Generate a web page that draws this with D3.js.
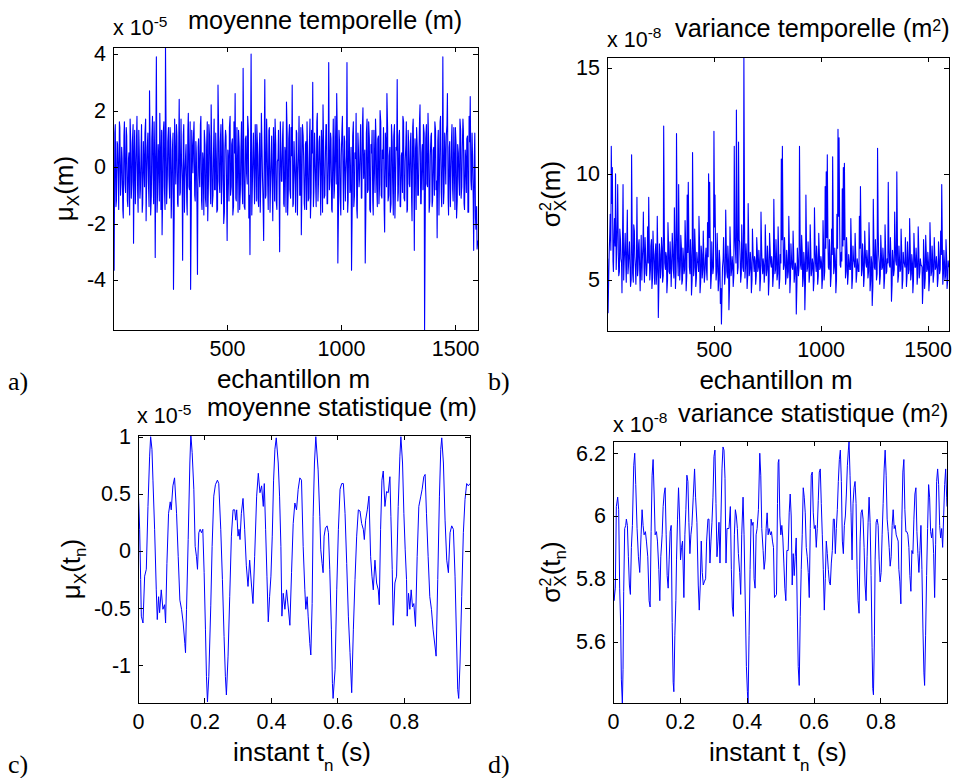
<!DOCTYPE html>
<html><head><meta charset="utf-8">
<script src="https://cdn.jsdelivr.net/npm/d3@7"></script>
<style>body{margin:0;background:#fff}svg{display:block}</style>
</head><body>
<svg id="chart" width="954" height="778"></svg>
<script>
// ---------------- DATA ----------------
// a) moyenne temporelle (x 1e-5 m). Two interleaved readings:
//    first array at samples m = 1, 6, 11, ... ; second array at m = 4, 9, 14, ...
const stepEchantillon = 5;
const offsetSecond = 3;
const moyenneTemporelle = [
2.2,-3.65,1.5,-1.2,0.8,-1.5,1.4,-0.6,0.3,-1.8,
1.6,-0.9,1.1,-1.4,0.5,1.7,-1.1,0.9,-2.7,1.3,
-0.4,1.8,-1.6,0.6,-0.8,1.5,-1.3,0.2,1.2,-1.9,
0.7,-0.5,2.7,-1.7,1.0,-0.2,1.6,-3.2,3.9,-1.0,
0.4,1.9,-1.5,-2.4,1.2,-0.7,4.25,-1.3,0.9,-0.3,
1.4,-1.8,0.6,-4.33,1.7,-0.6,1.1,-1.4,2.4,-0.9,
0.3,-3.3,1.5,-0.4,0.8,-1.7,1.9,-0.8,-4.33,1.3,
-0.2,1.6,-1.2,0.5,-3.8,1.0,-0.7,1.8,-1.5,0.2,
1.3,-1.1,0.7,-1.9,1.5,-0.3,2.2,-1.4,0.4,-0.8,
1.2,-1.6,2.9,-0.5,0.9,-1.3,1.7,-2.0,0.6,1.1,
-2.6,0.3,1.4,-1.0,0.8,-1.7,1.6,2.6,-1.2,0.1,
1.3,-1.5,0.5,-0.6,3.5,-1.4,1.0,-0.2,1.8,-1.8,
-3.1,4.0,-0.9,1.2,-1.3,0.7,1.5,-1.1,0.4,-1.6,
1.9,-0.4,-2.6,3.1,-1.0,0.8,-1.5,1.4,-0.7,1.1,
-1.9,0.6,1.7,-1.2,0.2,1.3,-3.0,0.9,-0.5,1.6,
-1.4,0.5,2.3,-1.7,1.0,-0.8,1.4,2.9,-1.3,0.3,
-1.6,1.2,-0.4,1.8,-1.0,-2.4,1.5,0.4,-1.5,0.9,
1.6,-1.2,0.7,-1.8,1.3,3.0,-0.9,0.5,-1.4,1.9,
-0.6,1.1,-1.7,0.8,2.2,-1.1,0.2,1.5,-1.3,3.7,
-0.5,1.0,-1.6,1.7,-0.8,0.6,2.6,-3.4,1.3,-1.0,
0.4,1.8,-1.5,0.9,-0.3,3.7,-1.2,1.4,-0.7,-3.65,
1.1,-1.4,0.5,1.9,-1.8,0.7,-0.4,1.5,-1.1,2.1,
0.2,-3.4,1.2,-0.9,1.6,-1.5,0.8,1.3,-1.7,0.3,
1.7,-0.6,1.0,-1.3,2.0,-1.0,0.6,1.4,-2.3,0.9,
2.6,-1.2,0.4,-1.6,1.5,-0.5,1.1,-1.8,0.7,3.1,
-0.9,1.3,-1.4,0.5,1.8,-1.1,0.2,1.6,-1.5,0.9,
-0.7,1.2,-1.9,1.7,-2.95,0.6,1.4,-1.0,0.3,2.2,
-1.3,0.8,1.5,-5.77,1.0,-0.6,1.9,-1.6,0.4,1.2,
-1.2,0.7,1.6,-0.8,-2.5,1.3,-0.3,1.8,-1.4,3.9,
-0.9,0.5,1.1,2.6,-1.7,0.9,-0.5,1.5,-1.2,0.2,
1.4,-1.8,0.8,-0.4,1.7,-1.1,0.6,1.3,-1.5,0.3,
1.0,-1.6,1.8,2.5,-0.8,0.4,-2.95,1.2,-2.2,-2.9
];
const moyenneTemporelleB = [
-0.8,1.2,-1.4,0.9,-0.3,1.6,-1.0,0.7,-1.5,1.1,
-0.6,1.4,-1.2,0.3,-1.7,0.8,-0.5,1.5,0.4,-1.3,
1.0,-0.9,1.3,-1.1,0.6,-1.6,0.9,-0.7,1.7,-0.2,
1.2,-1.4,0.5,-1.0,1.8,-1.3,0.2,1.1,-1.6,0.8,
-1.2,0.5,1.3,-0.9,1.6,-1.5,0.7,-0.4,1.4,-1.1,
0.9,-0.6,1.2,-1.8,0.3,1.5,-1.3,0.8,-1.0,1.7,
-0.5,1.1,-1.6,0.4,-1.2,1.3,-0.7,1.6,-1.4,0.6,
1.2,-1.0,0.9,-1.5,0.7,-0.3,1.5,-1.2,0.5,-1.7,
0.8,-1.4,1.6,-0.6,1.1,-1.3,0.4,-1.0,1.7,-0.8,
0.3,-1.5,1.2,-0.9,1.5,-0.4,0.8,-1.6,1.3,-1.1,
0.6,-1.2,1.8,-0.7,1.0,-1.4,0.5,-1.1,1.4,-1.6,
0.7,-0.8,1.6,-1.3,0.2,-1.5,1.1,-0.6,1.3,-1.0,
0.9,-1.7,0.5,-0.4,1.5,-1.2,0.8,-1.4,1.2,-0.3,
0.6,-1.5,1.0,-1.1,1.7,-0.7,1.3,-1.6,0.4,-0.9,
1.4,-1.2,0.8,-1.5,0.3,-1.0,1.6,-0.5,1.1,-1.3,
0.7,-1.6,1.2,-0.8,1.5,-1.1,0.4,-1.4,0.9,-0.6,
1.3,-1.7,0.6,-1.0,1.4,-0.5,1.1,-1.3,0.8,-1.5,
0.2,-1.1,1.7,-0.9,0.5,-1.4,1.2,-0.7,1.6,-1.2,
0.9,-0.4,1.3,-1.6,0.7,-1.0,1.5,-1.3,0.4,-0.8,
1.2,-1.5,0.6,-1.1,1.8,-0.6,1.0,-1.4,0.8,-1.7,
1.3,-0.5,1.1,-1.2,0.4,-1.6,1.4,-0.9,0.7,-1.3,
1.6,-1.0,0.3,-1.5,1.2,-0.7,0.9,-1.1,1.5,-0.4,
0.6,-1.3,1.7,-0.8,1.0,-1.6,0.5,-1.2,1.3,-0.9,
0.8,-1.4,1.1,-0.6,1.6,-1.1,0.3,-1.5,1.2,-0.7,
1.4,-1.0,0.7,-1.3,0.9,-1.7,1.5,-0.5,0.6,-1.2,
1.1,-1.4,0.4,-0.9,1.6,-1.2,0.8,-1.6,1.3,-0.6,
0.9,-1.1,1.4,-0.3,1.0,-1.5,0.7,-1.0,1.7,-1.3,
0.5,-0.8,1.2,-1.6,1.5,-0.7,0.8,-1.2,1.1,-1.4,
0.6,-1.0,1.3,-0.5,0.9,-1.7,1.6,-0.9,0.4,-1.3,
1.2,-0.6,1.5,-1.1,0.7,-1.4,1.0,-0.8,1.4,-1.5,
0.8,-1.2,0.5,-1.0,1.3,-0.7,1.7,-1.3,0.6,-0.9,
1.1,-1.6,0.9,-0.5,1.2,-1.1,0.4,-1.8,-1.4,-2.6
];
// b) variance temporelle (x 1e-8 m^2), same two interleaved readings
const varianceTemporelle = [
3.5,3.46,6.2,8.1,11.3,10.3,5.4,7.9,10.0,6.3,
9.5,5.2,7.4,6.0,4.4,9.5,5.8,7.2,4.9,8.3,
5.6,6.8,4.7,10.9,5.3,7.6,6.1,4.8,8.9,5.5,
6.9,4.5,7.1,5.9,8.2,4.9,6.4,5.2,7.5,8.9,
5.0,6.6,4.6,7.3,5.7,6.2,4.8,8.0,3.24,6.7,
5.1,7.0,4.9,12.25,5.8,6.3,4.4,7.7,5.4,6.8,
4.7,7.2,5.5,8.4,4.6,11.9,6.0,9.5,5.0,7.1,
4.8,6.5,5.3,7.8,4.5,9.0,9.6,5.6,6.9,4.3,
11.0,5.2,7.4,4.7,6.3,5.8,8.0,4.4,6.6,5.1,
7.3,4.9,6.0,5.5,7.7,10.0,9.6,4.6,6.8,5.3,
12.0,9.0,5.0,7.2,4.5,6.4,3.9,2.93,5.6,7.0,
4.8,8.3,5.4,6.6,3.6,7.5,5.2,6.1,4.7,11.3,
6.5,13.0,5.3,11.5,6.8,4.9,7.6,5.6,15.5,5.1,
6.7,4.6,8.6,5.2,6.3,4.4,7.4,5.9,6.1,4.8,
7.0,5.4,6.4,4.5,8.2,5.7,6.0,4.9,7.6,5.2,
6.6,4.3,7.2,5.8,6.1,4.7,8.8,5.3,6.9,5.0,
7.5,4.6,6.2,10.7,11.3,5.5,7.0,4.8,6.4,5.1,
8.0,4.4,6.7,5.6,7.3,4.9,5.8,3.4,6.5,5.2,
11.3,5.7,7.1,4.7,6.3,3.6,9.0,5.4,6.8,4.9,
7.6,5.2,6.0,4.5,8.4,5.8,6.6,4.8,7.2,5.5,
6.1,4.6,7.8,5.0,9.4,10.1,10.9,5.6,6.9,4.7,
7.4,10.8,5.3,6.5,4.4,8.1,12.1,11.7,5.7,6.3,
9.3,10.3,10.5,5.1,7.0,4.8,6.2,5.5,7.9,4.6,
6.6,5.9,7.2,4.9,6.0,5.4,8.0,9.4,5.2,6.7,
4.7,7.3,5.8,6.4,5.1,7.7,4.5,6.1,3.8,8.8,
5.6,6.9,5.0,11.2,6.2,4.8,7.1,5.5,6.5,4.6,
7.6,5.3,6.0,9.6,5.7,7.0,4.0,6.4,5.2,8.2,
5.9,10.1,4.9,6.6,5.4,7.4,4.6,6.3,5.8,7.0,
4.7,6.8,5.3,7.9,5.0,6.2,4.4,7.2,5.6,6.5,
4.8,7.5,5.1,6.0,5.7,3.9,6.9,4.6,7.1,5.4,
6.3,4.5,7.7,5.2,6.6,4.9,7.0,5.5,6.1,4.7,
6.8,5.3,7.3,9.5,4.8,6.4,5.0,6.9,4.6,5.9
];
const varianceTemporelleB = [
6.0,5.1,7.2,6.4,8.6,5.9,7.1,6.6,5.5,7.8,
6.2,5.4,6.9,5.8,7.4,5.0,6.5,5.7,7.0,5.3,
6.3,5.6,5.0,6.8,4.9,7.3,5.5,6.2,5.2,6.7,
5.4,6.1,5.0,6.6,5.6,7.0,5.3,6.0,5.8,6.4,
5.5,6.9,5.1,6.3,4.8,6.7,5.4,5.9,5.0,6.2,
5.6,6.5,5.2,7.4,5.5,6.1,5.0,6.6,5.3,5.9,
5.8,6.4,5.1,6.8,5.4,7.3,5.2,6.2,5.7,6.5,
5.0,6.0,5.5,6.7,5.2,6.3,6.8,5.3,6.1,5.0,
7.2,5.6,6.4,5.1,5.9,5.4,6.6,4.9,6.2,5.5,
6.0,5.3,6.5,5.0,6.1,7.0,6.3,5.2,5.8,5.6,
7.5,6.2,5.4,6.0,5.0,5.8,4.6,4.5,6.0,5.6,
5.3,6.4,5.1,5.9,4.7,6.2,5.5,5.7,5.2,7.0,
5.8,7.6,5.6,6.9,5.9,5.3,6.3,5.4,8.0,5.7,
6.0,5.2,6.7,5.5,5.8,5.0,6.2,5.4,5.9,5.2,
6.3,5.6,5.8,5.1,6.5,5.3,5.7,5.4,6.2,5.5,
5.9,5.0,6.4,5.6,5.7,5.2,6.5,5.5,6.0,5.3,
6.2,5.1,5.8,6.9,7.2,5.7,6.1,5.2,5.9,5.4,
6.4,5.1,5.9,5.5,6.2,5.3,5.6,4.8,5.9,5.6,
7.0,5.5,6.3,5.1,5.8,4.9,6.4,5.6,6.0,5.3,
6.3,5.5,5.8,5.0,6.5,5.4,6.0,5.2,6.2,5.6,
5.8,5.1,6.4,5.4,6.5,7.0,6.8,5.5,6.1,5.2,
6.2,7.1,5.6,5.9,5.0,6.5,8.0,7.4,5.6,5.9,
6.6,6.9,7.0,5.4,6.1,5.3,5.8,5.5,6.4,5.1,
5.9,5.6,6.2,5.3,5.7,5.4,6.5,6.8,5.5,6.0,
5.2,6.3,5.6,5.9,5.4,6.4,5.0,5.8,4.7,6.6,
5.5,6.1,5.3,7.3,5.8,5.2,6.2,5.6,5.9,5.1,
6.3,5.4,5.8,6.5,5.6,6.0,4.8,5.9,5.5,6.6,
5.7,6.8,5.2,5.9,5.5,6.3,5.0,5.8,5.6,6.1,
5.2,6.0,5.5,6.4,5.3,5.8,5.0,6.2,5.6,5.9,
5.3,6.3,5.4,5.7,5.6,4.8,6.0,5.1,6.2,5.5,
5.8,5.0,6.4,5.4,5.9,5.3,6.1,5.6,5.7,5.1,
6.0,5.5,6.2,6.6,5.3,5.8,5.2,6.0,5.0,5.6
];
// c) moyenne statistique (x 1e-5 m): [instant t (s), value]
const moyenneStatistique = [
[0.000,0.62],[0.005,0.19],[0.008,-0.25],[0.010,-0.57],[0.015,-0.63],[0.020,-0.22],[0.025,-0.16],[0.030,0.39],[0.035,0.83],[0.038,1.00],
[0.042,0.89],[0.045,0.62],[0.050,0.19],[0.055,-0.34],[0.058,-0.60],[0.062,-0.40],[0.065,-0.54],[0.070,-0.34],[0.075,-0.51],[0.080,-0.47],
[0.083,-0.63],[0.087,-0.11],[0.092,0.33],[0.097,0.43],[0.100,0.36],[0.105,0.57],[0.110,0.64],[0.116,0.33],[0.121,-0.05],[0.126,-0.43],
[0.131,-0.51],[0.136,-0.63],[0.141,-0.81],[0.143,-0.89],[0.146,-0.51],[0.151,0.10],[0.156,0.77],[0.159,1.02],[0.163,0.86],[0.168,0.54],
[0.172,0.04],[0.176,-0.05],[0.179,-0.16],[0.183,0.16],[0.187,0.19],[0.191,0.16],[0.195,0.19],[0.199,-0.19],[0.203,-0.69],[0.206,-1.10],
[0.209,-1.32],[0.213,-1.10],[0.219,-0.48],[0.223,0.04],[0.228,0.48],[0.233,0.58],[0.239,0.62],[0.243,0.59],[0.249,0.19],[0.254,-0.25],
[0.259,-0.75],[0.263,-1.10],[0.266,-1.26],[0.271,-0.92],[0.276,-0.40],[0.281,0.13],[0.286,0.36],[0.291,0.36],[0.294,0.27],[0.297,0.36],
[0.301,0.13],[0.304,0.19],[0.307,0.10],[0.311,0.33],[0.316,0.46],[0.321,0.19],[0.326,-0.13],[0.331,-0.31],[0.336,-0.08],[0.341,-0.28],
[0.346,-0.46],[0.351,-0.05],[0.357,0.48],[0.362,0.68],[0.367,0.51],[0.372,0.57],[0.377,0.39],[0.380,0.59],[0.384,0.19],[0.388,-0.22],
[0.392,-0.62],[0.396,-0.40],[0.400,-0.22],[0.404,0.13],[0.408,0.62],[0.412,0.89],[0.416,0.99],[0.422,0.77],[0.426,0.48],[0.430,0.04],
[0.433,-0.57],[0.437,-0.37],[0.442,-0.51],[0.447,-0.34],[0.452,-0.49],[0.457,-0.65],[0.462,-0.19],[0.467,0.24],[0.472,0.42],[0.477,0.36],
[0.482,0.54],[0.487,0.64],[0.492,0.62],[0.497,0.04],[0.502,-0.34],[0.505,-0.51],[0.509,-0.40],[0.512,-0.57],[0.517,-0.81],[0.520,-0.91],
[0.524,-0.46],[0.527,0.30],[0.531,0.77],[0.535,1.00],[0.542,0.71],[0.547,0.30],[0.550,0.01],[0.554,-0.11],[0.557,-0.19],[0.560,0.13],
[0.564,0.20],[0.569,0.22],[0.573,0.16],[0.577,-0.16],[0.582,-0.69],[0.585,-1.16],[0.587,-1.29],[0.593,-1.04],[0.598,-0.34],[0.603,0.19],
[0.608,0.54],[0.613,0.59],[0.618,0.59],[0.623,0.33],[0.628,-0.11],[0.633,-0.57],[0.638,-0.89],[0.643,-1.24],[0.648,-0.69],[0.653,-0.25],
[0.658,0.13],[0.663,0.36],[0.668,0.35],[0.673,0.24],[0.678,0.19],[0.681,0.10],[0.685,0.27],[0.690,0.36],[0.695,0.48],[0.700,-0.05],
[0.704,-0.22],[0.708,-0.34],[0.713,-0.08],[0.718,-0.28],[0.723,-0.34],[0.726,-0.47],[0.730,0.19],[0.734,0.62],[0.738,0.70],[0.743,0.39],
[0.748,0.52],[0.753,0.51],[0.758,0.65],[0.761,0.30],[0.765,-0.16],[0.768,-0.65],[0.773,-0.28],[0.778,-0.22],[0.783,0.39],[0.788,0.83],
[0.791,1.00],[0.796,0.77],[0.800,0.33],[0.804,0.01],[0.808,-0.25],[0.810,-0.57],[0.814,-0.37],[0.818,-0.51],[0.822,-0.34],[0.826,-0.49],
[0.830,-0.46],[0.835,-0.66],[0.840,-0.05],[0.845,0.39],[0.851,0.48],[0.855,0.54],[0.860,0.65],[0.864,0.67],[0.868,0.33],[0.873,-0.05],
[0.878,-0.40],[0.883,-0.51],[0.888,-0.69],[0.894,-0.84],[0.897,-0.92],[0.902,-0.25],[0.907,0.48],[0.911,0.89],[0.914,0.99],[0.919,0.77],
[0.924,0.27],[0.929,-0.08],[0.934,-0.19],[0.939,0.16],[0.944,0.22],[0.949,0.19],[0.954,-0.22],[0.959,-0.84],[0.962,-1.21],[0.965,-1.29],
[0.969,-0.98],[0.974,-0.40],[0.979,0.16],[0.984,0.45],[0.989,0.59],[0.994,0.57],[0.999,0.59]
];
// d) variance statistique (x 1e-8 m^2): [instant t (s), value]
const varianceStatistique = [
[0.000,5.90],[0.001,5.83],[0.003,5.73],[0.007,5.77],[0.010,6.03],[0.014,6.06],[0.017,6.02],[0.020,5.77],[0.023,5.65],[0.025,5.48],
[0.028,5.40],[0.030,5.51],[0.032,5.76],[0.035,5.96],[0.038,5.97],[0.040,5.99],[0.043,5.97],[0.046,5.87],[0.049,5.78],[0.052,5.75],
[0.055,5.90],[0.058,5.97],[0.062,6.16],[0.065,6.20],[0.068,6.10],[0.072,5.96],[0.076,5.87],[0.080,5.82],[0.084,5.94],[0.087,6.02],
[0.090,5.97],[0.093,5.94],[0.097,5.95],[0.100,5.92],[0.104,5.87],[0.108,5.73],[0.111,5.71],[0.114,5.95],[0.117,6.13],[0.120,6.18],
[0.123,6.07],[0.126,5.94],[0.130,5.95],[0.133,5.92],[0.137,5.83],[0.140,5.73],[0.143,5.87],[0.147,5.94],[0.150,6.03],[0.153,6.07],
[0.156,6.09],[0.159,5.94],[0.162,5.81],[0.165,5.77],[0.168,5.86],[0.171,5.95],[0.174,5.97],[0.177,5.66],[0.180,5.47],[0.182,5.44],
[0.185,5.62],[0.188,5.73],[0.190,5.86],[0.193,5.99],[0.196,6.09],[0.199,6.00],[0.202,5.86],[0.205,5.90],[0.208,5.92],[0.212,5.74],
[0.215,5.94],[0.218,6.02],[0.221,6.13],[0.224,6.11],[0.227,5.98],[0.230,5.88],[0.233,5.94],[0.236,5.97],[0.240,6.06],[0.244,6.15],
[0.247,6.06],[0.251,5.98],[0.255,5.78],[0.258,5.70],[0.261,5.78],[0.264,5.92],[0.267,5.82],[0.270,5.78],[0.273,5.79],[0.277,5.80],
[0.280,5.92],[0.284,5.99],[0.287,5.99],[0.290,5.85],[0.293,5.92],[0.296,5.98],[0.299,6.06],[0.302,6.19],[0.305,6.21],[0.308,6.04],
[0.311,5.87],[0.314,5.92],[0.317,5.98],[0.320,5.85],[0.323,6.00],[0.326,6.15],[0.329,6.22],[0.332,6.21],[0.335,6.12],[0.338,5.85],
[0.341,5.96],[0.344,5.96],[0.347,5.96],[0.351,6.03],[0.354,5.83],[0.357,5.71],[0.360,5.68],[0.363,5.94],[0.366,6.02],[0.369,6.00],
[0.372,5.96],[0.375,5.88],[0.379,5.82],[0.382,5.75],[0.385,5.94],[0.389,6.06],[0.392,5.94],[0.396,5.70],[0.399,5.52],[0.402,5.44],
[0.404,5.40],[0.407,5.62],[0.410,5.83],[0.413,5.99],[0.416,5.97],[0.419,5.98],[0.422,5.80],[0.425,5.77],[0.428,5.94],[0.431,5.96],
[0.435,6.02],[0.439,6.20],[0.442,6.13],[0.445,5.96],[0.449,5.89],[0.452,5.83],[0.455,5.86],[0.458,5.96],[0.461,6.01],[0.464,5.94],
[0.467,5.96],[0.471,5.94],[0.474,5.95],[0.477,5.92],[0.480,5.90],[0.483,5.74],[0.489,5.75],[0.492,6.04],[0.494,6.17],[0.496,6.18],
[0.499,6.00],[0.502,5.94],[0.505,5.97],[0.508,5.93],[0.511,5.85],[0.514,5.77],[0.517,5.73],[0.520,5.89],[0.524,5.89],[0.527,6.01],
[0.530,6.07],[0.533,6.00],[0.536,5.78],[0.539,5.88],[0.542,5.81],[0.545,5.87],[0.548,5.93],[0.551,5.71],[0.554,5.52],[0.557,5.46],
[0.560,5.68],[0.563,5.83],[0.566,5.94],[0.569,6.09],[0.572,6.06],[0.575,6.01],[0.578,5.90],[0.581,5.87],[0.584,5.82],[0.587,5.74],
[0.590,5.96],[0.593,6.13],[0.596,6.14],[0.599,6.01],[0.602,5.96],[0.605,5.97],[0.608,5.90],[0.611,5.96],[0.614,6.05],[0.617,6.14],
[0.620,6.15],[0.623,6.04],[0.626,5.94],[0.629,5.83],[0.632,5.70],[0.635,5.80],[0.638,5.92],[0.641,5.88],[0.644,5.83],[0.647,5.79],
[0.650,5.78],[0.653,5.85],[0.656,5.89],[0.659,5.99],[0.662,5.99],[0.665,5.88],[0.668,5.96],[0.671,6.02],[0.674,6.11],[0.677,6.18],
[0.680,6.21],[0.683,6.11],[0.686,5.92],[0.689,5.88],[0.692,5.97],[0.695,6.00],[0.698,6.07],[0.701,6.16],[0.704,6.21],[0.706,6.236],
[0.709,6.13],[0.712,6.01],[0.715,5.86],[0.718,6.04],[0.721,6.09],[0.724,6.11],[0.727,6.04],[0.730,5.83],[0.733,5.73],[0.736,5.69],
[0.739,5.92],[0.742,6.01],[0.745,6.02],[0.748,5.99],[0.751,5.90],[0.754,5.78],[0.757,5.73],[0.760,5.87],[0.763,5.98],[0.766,6.06],
[0.769,5.98],[0.772,5.81],[0.775,5.58],[0.777,5.45],[0.779,5.43],[0.782,5.62],[0.784,5.86],[0.787,5.98],[0.790,5.99],[0.793,5.97],
[0.796,5.86],[0.799,5.79],[0.802,5.82],[0.805,5.94],[0.808,6.04],[0.811,6.15],[0.814,6.21],[0.817,6.13],[0.820,5.99],[0.823,5.95],
[0.826,5.90],[0.829,5.84],[0.832,5.87],[0.835,5.97],[0.838,6.02],[0.841,5.96],[0.844,5.97],[0.847,5.94],[0.850,5.93],[0.853,5.92],
[0.855,5.83],[0.858,5.79],[0.861,5.72],[0.864,5.99],[0.867,6.14],[0.870,6.18],[0.873,6.02],[0.876,5.95],[0.879,5.95],[0.882,5.94],
[0.885,5.90],[0.888,5.81],[0.891,5.76],[0.894,5.89],[0.897,5.88],[0.900,5.99],[0.903,6.07],[0.906,6.09],[0.909,5.95],[0.912,5.88],
[0.915,5.82],[0.918,5.89],[0.921,5.97],[0.924,5.83],[0.927,5.64],[0.930,5.50],[0.932,5.46],[0.935,5.62],[0.938,5.81],[0.941,5.96],
[0.944,6.10],[0.947,6.06],[0.950,5.95],[0.953,5.93],[0.956,5.96],[0.959,5.88],[0.962,5.74],[0.965,5.91],[0.968,6.11],[0.971,6.15],
[0.974,6.10],[0.977,5.97],[0.980,5.93],[0.983,5.96],[0.986,5.90],[0.989,6.00],[0.992,6.10],[0.995,6.15],[0.998,6.06],[0.999,6.03]
];
// tick labels
const ticksEchantillon = [500, 1000, 1500];
const ticksMoyTemp = [-4, -2, 0, 2, 4];
const ticksVarTemp = [5, 10, 15];
const ticksInstant = [0, 0.2, 0.4, 0.6, 0.8];
const ticksMoyStat = [-1, -0.5, 0, 0.5, 1];
const ticksVarStat = [5.6, 5.8, 6, 6.2];

// ---------------- DRAWING ----------------
const svg = d3.select("#chart");
const SANS = "'Liberation Sans', Arial, Helvetica, sans-serif";
const SERIF = "'Liberation Serif', 'Times New Roman', serif";
const BLUE = "#0000ff";

function interleave(A, B) {
  const out = [];
  A.forEach((v, i) => {
    out.push([1 + stepEchantillon * i, v]);
    if (i < B.length) out.push([1 + offsetSecond + stepEchantillon * i, B[i]]);
  });
  return out;
}

const panels = [
  { id:"a", box:[113,478,47,330], xDomain:[1,1600], yDomain:[-5.77,4.25],
    series: interleave(moyenneTemporelle, moyenneTemporelleB), sw:1.1,
    xTicks:ticksEchantillon, yTicks:ticksMoyTemp, exp:"-5", expPos:[113,35],
    title:[{t:"moyenne temporelle (m)"}], titlePos:[188,28.5],
    xlabel:"echantillon", yl:"mu", ylX:73, letter:"a)", letterPos:[8,390] },
  { id:"b", box:[607,949,57,331], xDomain:[1,1600], yDomain:[2.6,15.5],
    series: interleave(varianceTemporelle, varianceTemporelleB), sw:1.1,
    xTicks:ticksEchantillon, yTicks:ticksVarTemp, exp:"-8", expPos:[607,46.7],
    title:[{t:"variance temporelle (m"},{t:"2",sup:true},{t:")"}], titlePos:[675,37.3],
    xlabel:"echantillon", yl:"sigma", ylX:560, letter:"b)", letterPos:[488,390] },
  { id:"c", box:[138,470,435,703], xDomain:[0,0.999], yDomain:[-1.33,1.015],
    series: moyenneStatistique, sw:1,
    xTicks:ticksInstant, yTicks:ticksMoyStat, exp:"-5", expPos:[137,423.3],
    title:[{t:"moyenne statistique (m)"}], titlePos:[207,416],
    xlabel:"instant", yl:"mu_t", ylX:80, letter:"c)", letterPos:[8,773] },
  { id:"d", box:[613,947,441,703], xDomain:[0,0.999], yDomain:[5.404,6.239],
    series: varianceStatistique, sw:1,
    xTicks:ticksInstant, yTicks:ticksVarStat, exp:"-8", expPos:[613,431.7],
    title:[{t:"variance statistique (m"},{t:"2",sup:true},{t:")"}], titlePos:[678,422.3],
    xlabel:"instant", yl:"sigma_t", ylX:560, letter:"d)", letterPos:[488,773] }
];

const TICK_FS = 21.5, LABEL_FS = 26, TITLE_FS = 25.3;

panels.forEach(p => {
  const [x0,x1,y0,y1] = p.box;
  const x = d3.scaleLinear().domain(p.xDomain).range([x0,x1]);
  const y = d3.scaleLinear().domain(p.yDomain).range([y1,y0]);
  const g = svg.append("g");

  g.append("clipPath").attr("id","clip-"+p.id)
    .append("rect").attr("x",x0).attr("y",y0).attr("width",x1-x0).attr("height",y1-y0);

  const line = d3.line().x(d=>x(d[0])).y(d=>y(d[1]));
  g.append("path").datum(p.series)
    .attr("clip-path","url(#clip-"+p.id+")")
    .attr("d", line).attr("fill","none").attr("stroke",BLUE)
    .attr("stroke-width",p.sw).attr("stroke-linejoin","round");

  const fmt = d => String(d);
  const styleAxis = sel => {
    sel.select(".domain").remove();
    sel.selectAll(".tick line").attr("stroke","#000").attr("shape-rendering","crispEdges");
    sel.selectAll("text").attr("fill","#000");
    sel.attr("font-family",SANS).attr("font-size",TICK_FS);
  };
  g.append("g").attr("transform",`translate(0,${y1})`)
    .call(d3.axisBottom(x).tickValues(p.xTicks).tickFormat(fmt).tickSize(-5).tickPadding(10.5)).call(styleAxis);
  g.append("g").attr("transform",`translate(0,${y0})`)
    .call(d3.axisTop(x).tickValues(p.xTicks).tickFormat("").tickSize(-5)).call(styleAxis);
  g.append("g").attr("transform",`translate(${x0},0)`)
    .call(d3.axisLeft(y).tickValues(p.yTicks).tickFormat(fmt).tickSize(-5).tickPadding(7)).call(styleAxis);
  g.append("g").attr("transform",`translate(${x1},0)`)
    .call(d3.axisRight(y).tickValues(p.yTicks).tickFormat("").tickSize(-5)).call(styleAxis);

  g.append("rect").attr("x",x0).attr("y",y0).attr("width",x1-x0).attr("height",y1-y0)
    .attr("fill","none").attr("stroke","#000").attr("stroke-width",1).attr("shape-rendering","crispEdges");

  // exponent "x 10^-n"
  const ex = g.append("text").attr("x",p.expPos[0]).attr("y",p.expPos[1])
    .attr("font-family",SANS).attr("font-size",TICK_FS).attr("fill","#000");
  ex.append("tspan").text("x 10");
  ex.append("tspan").attr("font-size",15.5).attr("dy",-8.5).text(p.exp);

  // title
  const tt = g.append("text").attr("x",p.titlePos[0]).attr("y",p.titlePos[1])
    .attr("font-family",SANS).attr("font-size",TITLE_FS).attr("fill","#000");
  p.title.forEach((s, k) => {
    if (s.sup) tt.append("tspan").attr("font-size",16).attr("dy",-6).text(s.t);
    else tt.append("tspan").attr("dy", k ? 6 : 0).text(s.t);
  });

  // x label
  const xl = g.append("text").attr("x",(x0+x1)/2 - 2).attr("y", y1 + 58)
    .attr("text-anchor","middle").attr("font-family",SANS).attr("font-size",LABEL_FS).attr("fill","#000");
  if (p.xlabel === "echantillon") {
    xl.text("echantillon m");
  } else {
    xl.append("tspan").text("instant t");
    xl.append("tspan").attr("font-size",17).attr("dy",10).text("n");
    xl.append("tspan").attr("dy",-10).text(" (s)");
  }

  // y label (rotated)
  const yc = (y0+y1)/2;
  const yl = g.append("text").attr("transform",`translate(${p.ylX},${yc}) rotate(-90)`)
    .attr("text-anchor","middle").attr("font-family",SANS).attr("font-size",LABEL_FS).attr("fill","#000");
  if (p.yl.startsWith("mu")) {
    yl.append("tspan").text("\u03bc");
    yl.append("tspan").attr("font-size",17).attr("dy",6).text("X");
    if (p.yl === "mu") {
      yl.append("tspan").attr("dy",-6).text("(m)");
    } else {
      yl.append("tspan").attr("dy",-6).text("(t");
      yl.append("tspan").attr("font-size",17).attr("dy",6).text("n");
      yl.append("tspan").attr("dy",-6).text(")");
    }
  } else {
    yl.append("tspan").text("\u03c3");
    yl.append("tspan").attr("font-size",16).attr("dy",-9).text("2");
    yl.append("tspan").attr("font-size",17).attr("dx",-9).attr("dy",15).text("X");
    if (p.yl === "sigma") {
      yl.append("tspan").attr("dy",-6).text("(m)");
    } else {
      yl.append("tspan").attr("dy",-6).text("(t");
      yl.append("tspan").attr("font-size",17).attr("dy",6).text("n");
      yl.append("tspan").attr("dy",-6).text(")");
    }
  }

  // panel letter
  g.append("text").attr("x",p.letterPos[0]).attr("y",p.letterPos[1])
    .attr("font-family",SERIF).attr("font-size",26).attr("fill","#000").text(p.letter);
});
</script>
</body></html>
